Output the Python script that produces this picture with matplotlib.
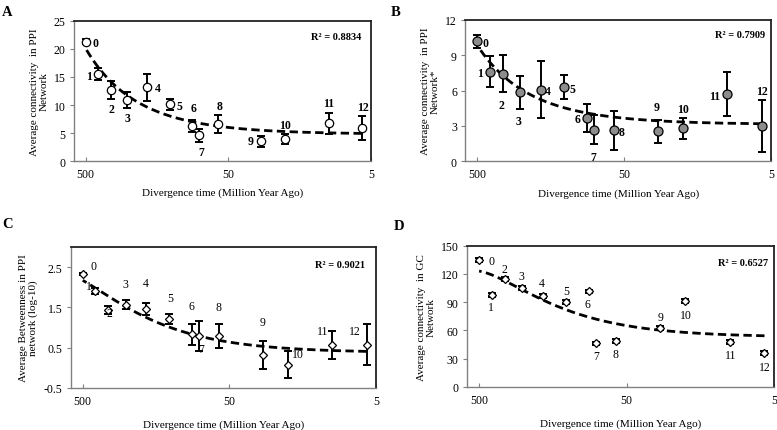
import numpy as np
import matplotlib
matplotlib.use("Agg")
import matplotlib.pyplot as plt
from matplotlib.ticker import FixedLocator, FixedFormatter, NullLocator

plt.rcParams['font.family'] = ['Liberation Serif', 'DejaVu Serif']

# ---------------- data ----------------
times = [500, 410, 335, 255, 185, 129, 90, 80, 59, 29.5, 20, 9.9, 5.8]
point_ids = ['0', '1', '2', '3', '4', '5', '6', '7', '8', '9', '10', '11', '12']

a_vals = [21.3, 15.5, 12.6, 10.9, 13.2, 10.1, 6.3, 4.6, 6.6, 3.55, 4.0, 6.75, 5.9]
a_err = [0.5, 1.05, 1.6, 1.4, 2.4, 1.0, 1.1, 1.1, 1.65, 0.95, 0.9, 1.9, 2.15]

b_vals = [10.17, 7.61, 7.44, 5.84, 6.07, 6.30, 3.65, 2.68, 2.62, 2.54, 2.79, 5.70, 2.96]
b_err = [0.55, 1.35, 1.55, 1.43, 2.4, 0.98, 1.2, 1.24, 1.66, 1.0, 0.86, 1.84, 2.2]

c_vals = [2.33, 1.91, 1.43, 1.57, 1.46, 1.22, 0.83, 0.79, 0.78, 0.325, 0.075, 0.575, 0.575]
c_err = [0.03, 0.07, 0.1, 0.11, 0.14, 0.12, 0.27, 0.37, 0.30, 0.35, 0.33, 0.35, 0.52]

d_vals = [135.1, 97.6, 114.3, 105.4, 96.6, 90.6, 101.5, 46.3, 48.5, 62.6, 91.3, 47.8, 36.4]
d_err = [2.0, 2.0, 2.0, 2.0, 2.5, 2.0, 2.0, 2.0, 2.0, 2.0, 2.0, 2.0, 2.0]

r2_texts = ['R² = 0.8834', 'R² = 0.7909', 'R² = 0.9021', 'R² = 0.6527']
panel_letters = ['A', 'B', 'C', 'D']
ylabels = ['Average connectivity  in PPI\nNetwork',
           'Average connectivity  in PPI\nNetwork*',
           'Average Betweenness in PPI\nnetwork (log-10)',
           'Average connectivity  in GC\nNetwork']
xlabel = 'Divergence time (Million Year Ago)'
xtick_vals = [500, 50, 5]
xtick_labels = ['500', '50', '5']

# ---------------- layout / style ----------------
W, H = 777, 431
fig = plt.figure(figsize=(W / 100, H / 100), dpi=100)


def ax_at(l, t, r, b):
    return fig.add_axes([l / W, 1 - b / H, (r - l) / W, (b - t) / H])


offs_a = [(10, -1), (-9, -2), (1, -19), (0, -18), (11, -1), (10, -2), (2, 18),
          (2, -17), (1, 18), (-10, 0), (0, 14), (0, 20), (1, 21)]
offs_b = [(8, -2), (-10, -1), (-1, -31), (-2, -29), (7, -1), (9, -2), (-9, -1),
          (-1, -27), (8, -2), (-1, 24), (0, 19), (-13, -2), (0, 35)]
offs_c = [(11, 8), (-6, 5), (1, -3), (0, 21), (0, 26), (1, 21), (0, 28),
          (2, -13), (0, 29), (0, 33), (10, 11), (-10, 14), (-12, 14)]
offs_d = [(12, -1), (-1, -12), (0, 10), (-1, 12), (-1, 13), (0, 11), (-1, -13),
          (0, -13), (0, -13), (0, 11), (1, -14), (0, -13), (0, -14)]

panels = [
    dict(box=(74, 21.7, 371, 162.3), vals=a_vals, err=a_err, ylim=(0, 25),
         yticks=[0, 5, 10, 15, 20, 25], ytl=['0', '5', '10', '15', '20', '25'],
         marker='o', mfc='white', ms=6, offs=offs_a, bold=True,
         letter_xy=(2, 12), r2_xy=(361, 38), xlab_y=193),
    dict(box=(465.3, 20.7, 771, 162.3), vals=b_vals, err=b_err, ylim=(0, 12),
         yticks=[0, 3, 6, 9, 12], ytl=['0', '3', '6', '9', '12'],
         marker='o', mfc='#8c8c8c', ms=6.5, offs=offs_b, bold=True,
         letter_xy=(391, 12), r2_xy=(765, 36), xlab_y=194),
    dict(box=(70.7, 248.3, 376, 388.7), vals=c_vals, err=c_err, ylim=(-0.5, 3.0),
         yticks=[-0.5, 0.5, 1.5, 2.5], ytl=['-0.5', '0.5', '1.5', '2.5'],
         marker='D', mfc='white', ms=4.2, offs=offs_c, bold=False,
         letter_xy=(2, 225), r2_xy=(365, 265), xlab_y=425),
    dict(box=(467, 246.7, 774, 388), vals=d_vals, err=d_err, ylim=(0, 150),
         yticks=[0, 30, 60, 90, 120, 150], ytl=['0', '30', '60', '90', '120', '150'],
         marker='D', mfc='white', ms=4.2, offs=offs_d, bold=False,
         letter_xy=(394, 227), r2_xy=(768, 263), xlab_y=424),
]

x = np.array(times, dtype=float)
for i, p in enumerate(panels):
    l, t, r, b = p['box']
    ax = ax_at(l, t, r, b)
    y = np.array(p['vals'])
    e = np.array(p['err'])

    # trendline (2nd-order polynomial, as in the source)
    coef = np.polyfit(x, y, 2)
    xx = np.linspace(x.min(), x.max(), 300)
    ax.plot(xx, np.polyval(coef, xx), color='black', lw=2.0,
            dashes=(3.0, 1.6), zorder=2)

    ax.errorbar(x, y, yerr=e, fmt='none', ecolor='black', elinewidth=1.4,
                capsize=2.6, capthick=1.4, zorder=3)
    ax.plot(x, y, linestyle='none', marker=p['marker'], ms=p['ms'],
            mfc=p['mfc'], mec='black', mew=0.9, zorder=4)

    for xi, yi, lab, (dx, dy) in zip(x, y, point_ids, p['offs']):
        ax.annotate(lab, (xi, yi), xytext=(dx, dy), textcoords='offset pixels',
                    ha='center', va='center', fontsize=8.5,
                    fontweight='bold' if p['bold'] else 'normal', zorder=5)

    ax.set_xscale('log')
    ax.set_xlim(604, 5)
    ax.set_ylim(*p['ylim'])
    ax.xaxis.set_major_locator(FixedLocator(xtick_vals))
    ax.xaxis.set_major_formatter(FixedFormatter(xtick_labels))
    ax.xaxis.set_minor_locator(NullLocator())
    ax.set_yticks(p['yticks'])
    ax.set_yticklabels(p['ytl'])
    ax.tick_params(axis='x', direction='in', length=3, width=0.8,
                   labelsize=8.5, pad=5, color='#808080')
    ax.tick_params(axis='y', direction='out', length=3, width=0.8,
                   labelsize=8.5, pad=3, color='#808080')

    for s in ['left', 'bottom']:
        ax.spines[s].set_color('#808080')
        ax.spines[s].set_linewidth(1.0)
    for s in ['top', 'right']:
        ax.spines[s].set_color('#222222')
        ax.spines[s].set_linewidth(1.3)

    ax.set_ylabel(ylabels[i], fontsize=8, linespacing=1.05, labelpad=4)
    fig.text((l + r) / 2 / W, 1 - p['xlab_y'] / H, xlabel, ha='center',
             va='center', fontsize=8)

    fig.text(p['r2_xy'][0] / W, 1 - p['r2_xy'][1] / H, r2_texts[i],
             ha='right', va='center', fontsize=7.5, fontweight='bold')
    fig.text(p['letter_xy'][0] / W, 1 - p['letter_xy'][1] / H, panel_letters[i],
             ha='left', va='center', fontsize=10.5, fontweight='bold')

fig.savefig('out.png', dpi=100, facecolor='white')
